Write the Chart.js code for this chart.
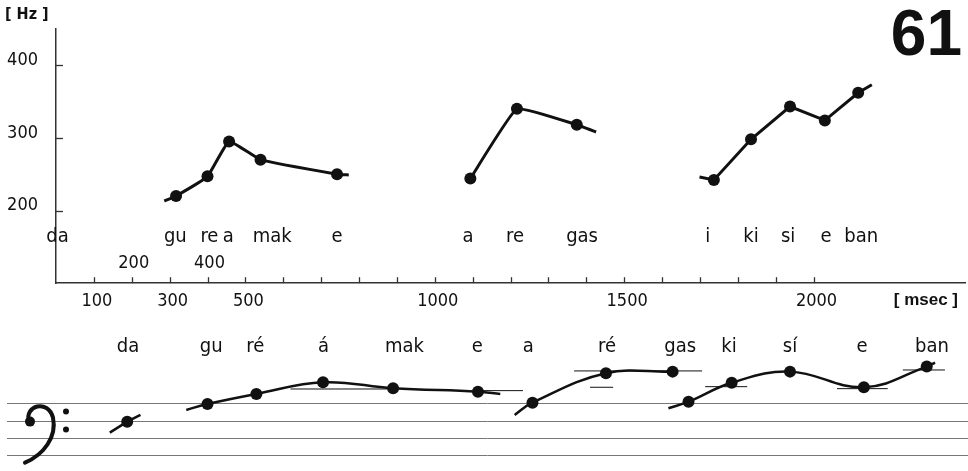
<!DOCTYPE html>
<html lang="en">
<head>
<meta charset="UTF-8" />
<title>Pitch contour 61</title>
<script src="https://cdn.jsdelivr.net/npm/chart.js"></script>
<style>
  html, body { margin: 0; padding: 0; background: #fff; }
  #wrap { position: relative; width: 968px; height: 471px; overflow: hidden; }
  canvas { position: absolute; left: 0; }
  #contour { top: 0; }
  #staff { top: 312px; }
</style>
</head>
<body>
<div id="wrap">
  <canvas id="contour" width="968" height="312"></canvas>
  <canvas id="staff" width="968" height="159"></canvas>
</div>
<script>
const FIGURE_NO = "61";

// --- F0 contour (msec, Hz); lead = where the traced curve starts/ends beyond the dots
const phrase1Ms = [317, 400, 457, 540, 742];
const phrase1Hz = [220, 247, 295, 270, 250];
const phrase1Lead = [[286, 213], [773, 249]];

const phrase2Ms = [1094, 1217, 1375];
const phrase2Hz = [244, 340, 318];
const phrase2Lead = [null, [1426, 308]];

const phrase3Ms = [1737, 1835, 1938, 2030, 2118];
const phrase3Hz = [242, 298, 343, 324, 362];
const phrase3Lead = [[1699, 246], [2154, 373]];

const topSyllables = ["da", "gu", "re", "a", "mak", "e", "a", "re", "gas", "i", "ki", "si", "e", "ban"];
const topSyllableMs = [4, 315, 405, 455, 571, 742, 1088, 1212, 1389, 1721, 1835, 1933, 2033, 2126];

const tickMs = [100, 200, 300, 400, 500, 600, 700, 800, 900, 1000, 1100, 1200, 1300, 1400, 1500, 1600, 1700, 1800, 1900, 2000];
const labeledMs = [100, 300, 500, 1000, 1500, 2000];
const innerLabelMs = [200, 400];
const hzTicks = [200, 300, 400];

// --- transcription on the staff (same time scale, height in staff steps; 0 = bottom line)
const staffPhrase1Ms = [188];
const staffPhrase1Step = [5.88];
const staffPhrase1Lead = [[142, 4.61], [223, 6.66]];

const staffPhrase2Ms = [400, 529, 705, 890, 1114];
const staffPhrase2Step = [7.93, 9.09, 10.44, 9.75, 9.35];
const staffPhrase2Lead = [[344, 7.23], [1173, 9.09]];

const staffPhrase3Ms = [1258, 1452, 1628];
const staffPhrase3Step = [8.08, 11.48, 11.67];
const staffPhrase3Lead = [[1211, 6.66], null];

const staffPhrase4Ms = [1670, 1784, 1938, 2133, 2299];
const staffPhrase4Step = [8.19, 10.39, 11.67, 9.86, 12.25];
const staffPhrase4Lead = [[1617, 7.43], [2321, 12.71]];

const levelFromMs = [619, 1120, 1368, 1410, 1714, 2062, 2236];
const levelToMs = [883, 1233, 1706, 1471, 1825, 2196, 2347];
const levelStep = [9.66, 9.47, 11.75, 9.86, 9.93, 9.70, 11.86];

const staffLines = [0, 2, 4, 6, 8];

const staffSyllables = ["da", "gu", "ré", "á", "mak", "e", "a", "ré", "gas", "ki", "sí", "e", "ban"];
const staffSyllableMs = [190, 410, 526, 706, 920, 1112, 1247, 1455, 1648, 1777, 1938, 2128, 2313];

const NARROW = '"Liberation Sans Narrow", "DejaVu Sans Condensed", "Roboto", sans-serif';
const INK = "#111";

function contour(xs, ys, lead) {
    const pts = xs.map((x, i) => ({ x: x, y: ys[i] }));
    if (lead[0]) pts.unshift({ x: lead[0][0], y: lead[0][1], lead: true });
    if (lead[1]) pts.push({ x: lead[1][0], y: lead[1][1], lead: true });
    return pts;
}

function lineSet(data, tension, width, radius) {
    return {
        data: data,
        showLine: true,
        borderColor: INK,
        borderWidth: width,
        tension: tension,
        pointRadius: ctx => (ctx.raw && ctx.raw.lead) ? 0 : radius,
        pointBackgroundColor: INK,
        pointBorderWidth: 0,
        clip: false
    };
}

// inward tick marks + text of the upper panel
const contourDecor = {
    id: "contourDecor",
    afterDraw(chart) {
        const ctx = chart.ctx;
        const xs = chart.scales.x, ys = chart.scales.y;
        const area = chart.chartArea;
        ctx.save();
        ctx.strokeStyle = "#333";
        ctx.lineWidth = 1.3;
        tickMs.forEach(v => {
            const px = Math.round(xs.getPixelForValue(v)) + 0.5;
            ctx.beginPath(); ctx.moveTo(px, area.bottom); ctx.lineTo(px, area.bottom - 6); ctx.stroke();
        });
        hzTicks.forEach(v => {
            const py = Math.round(ys.getPixelForValue(v)) + 0.5;
            ctx.beginPath(); ctx.moveTo(area.left, py); ctx.lineTo(area.left + 7, py); ctx.stroke();
        });

        ctx.fillStyle = INK;
        ctx.textAlign = "center";
        ctx.textBaseline = "middle";
        ctx.font = "20px " + NARROW;
        topSyllables.forEach((s, i) => ctx.fillText(s, xs.getPixelForValue(topSyllableMs[i]), 237));
        ctx.font = "18px " + NARROW;
        innerLabelMs.forEach(v => ctx.fillText(String(v), xs.getPixelForValue(v) + 2, 263));

        ctx.font = "bold 16px " + NARROW;
        ctx.textAlign = "left";
        ctx.fillText("[ Hz ]", 5, 15);
        ctx.font = "bold 17px Liberation Sans, Arial, sans-serif";
        ctx.textAlign = "right";
        ctx.fillText("[ msec ]", 958, 300);
        ctx.font = "bold 64px Liberation Sans, Arial, sans-serif";
        ctx.textBaseline = "alphabetic";
        ctx.fillText(FIGURE_NO, 962, 55);
        ctx.restore();
    }
};

new Chart(document.getElementById("contour"), {
    type: "scatter",
    data: {
        datasets: [
            lineSet(contour(phrase1Ms, phrase1Hz, phrase1Lead), 0.12, 3, 6),
            lineSet(contour(phrase2Ms, phrase2Hz, phrase2Lead), 0.1, 3, 6),
            lineSet(contour(phrase3Ms, phrase3Hz, phrase3Lead), 0, 3, 6)
        ]
    },
    options: {
        responsive: false,
        animation: false,
        devicePixelRatio: 1,
        layout: { autoPadding: false, padding: { top: 21, right: 3, left: 0, bottom: 0 } },
        plugins: { legend: { display: false }, tooltip: { enabled: false } },
        scales: {
            x: {
                type: "linear",
                min: 0,
                max: 2400,
                afterBuildTicks: axis => { axis.ticks = tickMs.map(v => ({ value: v })); },
                afterFit: axis => { axis.height = 27; },
                grid: { display: false, drawTicks: false },
                border: { display: true, color: "#333", width: 1.5 },
                ticks: {
                    autoSkip: false,
                    maxRotation: 0,
                    padding: 7,
                    labelOffset: 3,
                    color: INK,
                    font: { family: NARROW, size: 18 },
                    callback: v => labeledMs.includes(v) ? String(v) : ""
                }
            },
            y: {
                min: 100,
                max: 450,
                afterBuildTicks: axis => { axis.ticks = hzTicks.map(v => ({ value: v })); },
                afterFit: axis => { axis.width = 56; },
                grid: { display: false, drawTicks: false },
                border: { display: true, color: "#333", width: 1.5 },
                ticks: {
                    padding: 18,
                    labelOffset: -5,
                    color: INK,
                    font: { family: NARROW, size: 18 }
                }
            }
        }
    },
    plugins: [contourDecor]
});

// staff lines, clef and syllables of the lower panel
const staffDecor = {
    id: "staffDecor",
    beforeDatasetsDraw(chart) {
        const ctx = chart.ctx;
        const ys = chart.scales.y;
        ctx.save();
        ctx.strokeStyle = "#777";
        ctx.lineWidth = 1;
        staffLines.forEach(s => {
            const py = Math.round(ys.getPixelForValue(s)) + 0.5;
            ctx.beginPath(); ctx.moveTo(7, py); ctx.lineTo(chart.width, py); ctx.stroke();
        });

        // bass clef around the F line
        const yF = ys.getPixelForValue(6);
        ctx.strokeStyle = INK;
        ctx.fillStyle = INK;
        ctx.lineWidth = 4;
        ctx.lineCap = "round";
        ctx.beginPath();
        ctx.moveTo(29, yF + 1);
        ctx.bezierCurveTo(24, yF - 15, 48, yF - 22, 53, yF - 3);
        ctx.bezierCurveTo(57, yF + 16, 44, yF + 34, 25, yF + 42);
        ctx.stroke();
        ctx.beginPath(); ctx.arc(30, yF + 1, 5, 0, Math.PI * 2); ctx.fill();
        ctx.beginPath(); ctx.arc(66, yF - 9, 3, 0, Math.PI * 2); ctx.fill();
        ctx.beginPath(); ctx.arc(66, yF + 9, 3, 0, Math.PI * 2); ctx.fill();
        ctx.restore();
    },
    afterDraw(chart) {
        const ctx = chart.ctx;
        const xs = chart.scales.x;
        ctx.save();
        ctx.fillStyle = INK;
        ctx.textAlign = "center";
        ctx.textBaseline = "middle";
        ctx.font = "20px " + NARROW;
        staffSyllables.forEach((s, i) => ctx.fillText(s, xs.getPixelForValue(staffSyllableMs[i]), 35));
        ctx.restore();
    }
};

const levelSets = levelStep.map((s, i) => ({
    data: [{ x: levelFromMs[i], y: s }, { x: levelToMs[i], y: s }],
    showLine: true,
    borderColor: INK,
    borderWidth: 1,
    pointRadius: 0,
    clip: false
}));

new Chart(document.getElementById("staff"), {
    type: "scatter",
    data: {
        datasets: levelSets.concat([
            lineSet(contour(staffPhrase1Ms, staffPhrase1Step, staffPhrase1Lead), 0, 2.5, 6),
            lineSet(contour(staffPhrase2Ms, staffPhrase2Step, staffPhrase2Lead), 0.4, 2.5, 6),
            lineSet(contour(staffPhrase3Ms, staffPhrase3Step, staffPhrase3Lead), 0.4, 2.5, 6),
            lineSet(contour(staffPhrase4Ms, staffPhrase4Step, staffPhrase4Lead), 0.4, 2.5, 6)
        ])
    },
    options: {
        responsive: false,
        animation: false,
        devicePixelRatio: 1,
        layout: { autoPadding: false, padding: { top: 0, right: 3, left: 56, bottom: 0 } },
        plugins: { legend: { display: false }, tooltip: { enabled: false } },
        scales: {
            x: { type: "linear", display: false, min: 0, max: 2400 },
            y: { display: false, min: 0.17, max: 18.57 }
        }
    },
    plugins: [staffDecor]
});
</script>
</body>
</html>
